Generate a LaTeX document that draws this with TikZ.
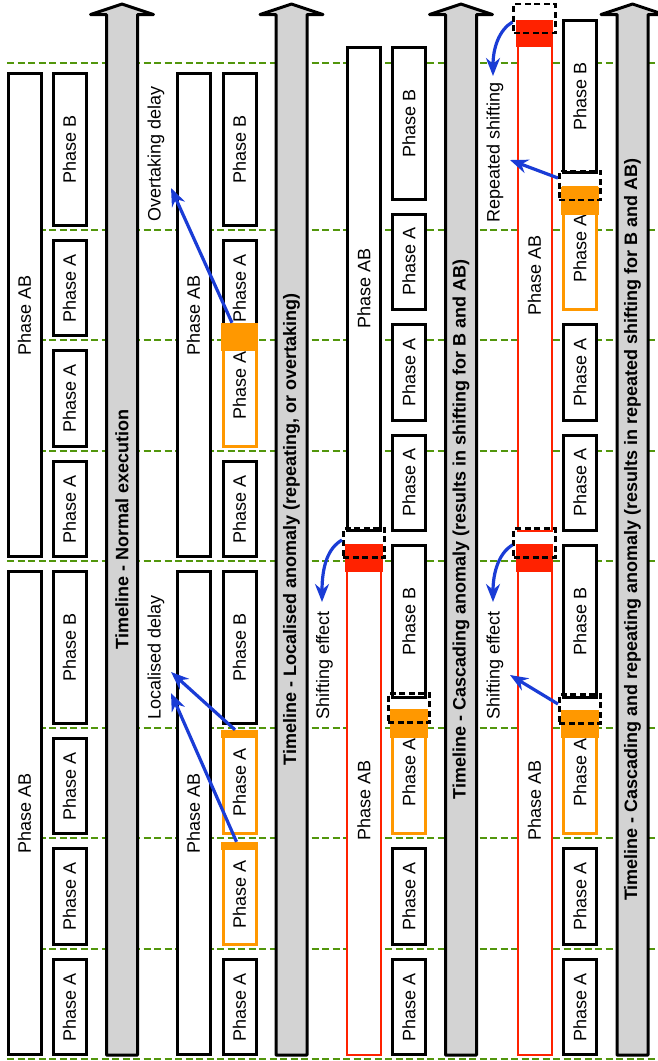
\documentclass[tikz,border=0pt]{standalone}
\usepackage{fontspec}
\setmainfont{Liberation Sans}
\usetikzlibrary{arrows.meta}

\definecolor{stepgreen}{RGB}{82,150,12}
\definecolor{lategold}{RGB}{255,152,0}
\definecolor{shiftred}{RGB}{255,34,0}
\definecolor{linkblue}{RGB}{26,60,214}
\definecolor{railgrey}{RGB}{211,211,211}

\begin{document}
\begin{tikzpicture}[
    x = 1pt, y = -1pt,
    font = \fontsize{18}{21}\selectfont]
  \tikzstyle{phasebox}=[draw, fill=white, line width=3pt, rotate=90, minimum height=33pt, inner sep=0pt]
  \tikzstyle{latebox}=[phasebox, draw=lategold, line width=3pt]
  \tikzstyle{redbox}=[phasebox, draw=shiftred, line width=2pt, minimum height=34pt]
  \tikzstyle{delaybar}=[fill=lategold, minimum width=37.5pt, inner sep=0pt]
  \tikzstyle{shiftbar}=[fill=shiftred, minimum width=37.5pt, inner sep=0pt]
  \tikzstyle{shiftmark}=[draw, line width=2.6pt, dash pattern=on 6pt off 3.5pt, minimum width=41.5pt, minimum height=29pt, inner sep=0pt]
  \tikzstyle{note}=[rotate=90, anchor=west, inner sep=0pt]
  \tikzstyle{rail}=[draw, fill=railgrey, line width=3pt, line join=round]
  \tikzstyle{effect}=[linkblue, line width=3.2pt, -{Stealth[length=18pt, width=14pt]}]
  \tikzstyle{tick}=[stepgreen, line width=2.5pt, dash pattern=on 7pt off 3.5pt]
  \useasboundingbox (0,0) rectangle (658,1061);

  % time steps
  \foreach \y in {63,230,340,451,561,728,838,949,1059}
    \draw[tick] (7,\y) -- (658,\y);

  % timelines
  \foreach \cx/\tl [count=\i] in {122/{Timeline - Normal execution},
      291.5/{Timeline - Localised anomaly (repeating, or overtaking)},
      461/{Timeline - Cascading anomaly (results in shifting for B and AB)},
      632.5/{Timeline - Cascading and repeating anomaly (results in repeated shifting for B and AB)}}
  {
    \draw[rail] (\cx-15.5,1055) -- (\cx-15.5,14.5) -- (\cx-31.5,14.5) -- (\cx,4)
      -- (\cx+31.5,14.5) -- (\cx+15.5,14.5) -- (\cx+15.5,1055) -- cycle;
    \node[rotate=90, font=\fontsize{18}{21}\selectfont\bfseries] (rail\i) at (\cx,529.5) {\tl};
  }

  % normal execution
  \node[phasebox, minimum width=483pt] (ab1a) at (24.5,315.25) {Phase AB};
  \node[phasebox, minimum width=483pt] (ab1b) at (24.5,813.25) {Phase AB};
  \foreach \t/\b/\p [count=\i] in {72.5/227/B, 239.5/337/A, 349.5/448/A, 460.5/558/A,
      570.5/725/B, 737.5/835/A, 847.5/946/A, 958.5/1056/A}
    \node[phasebox, minimum width={(\b-\t-2.5)*1pt}] (p1\i) at (69.5,{(\t+\b)/2}) {Phase \p};

  % localised anomaly
  \node[phasebox, minimum width=483pt] (ab2a) at (193.5,315.25) {Phase AB};
  \node[phasebox, minimum width=483pt] (ab2b) at (193.5,813.25) {Phase AB};
  \foreach \t/\b/\p [count=\i] in {72.5/227/B, 239.5/337/A, 460.5/558/A,
      570.5/725/B, 958.5/1056/A}
    \node[phasebox, minimum width={(\b-\t-2.5)*1pt}] (p2\i) at (239.5,{(\t+\b)/2}) {Phase \p};
  \node[latebox, minimum width=122.5pt] (late2a) at (239.5,385.5) {Phase A};
  \node[latebox, minimum width=102.5pt] (late2b) at (239.5,782.5) {Phase A};
  \node[latebox, minimum width=101.5pt] (late2c) at (239.5,894) {Phase A};
  \node[delaybar, minimum height=28pt] (bar2a) at (239.5,337) {};
  \node[delaybar, minimum height=8pt] (bar2b) at (239.5,734) {};
  \node[delaybar, minimum height=8pt] (bar2c) at (239.5,846) {};

  % cascading anomaly
  \node[phasebox, minimum width=483pt] (ab3a) at (364,288.75) {Phase AB};
  \node[redbox, minimum width=510pt] (ab3b) at (364,800) {Phase AB};
  \foreach \t/\b/\p [count=\i] in {46/200.5/B, 213/310.5/A, 323/421.5/A, 434/531.5/A,
      544/698.5/B, 847.5/946/A, 958.5/1056/A}
    \node[phasebox, minimum width={(\b-\t-2.5)*1pt}] (p3\i) at (409,{(\t+\b)/2}) {Phase \p};
  \node[latebox, minimum width=123.5pt] (late3a) at (409,772) {Phase A};
  \node[shiftbar, minimum height=28pt] (bar3a) at (364,558) {};
  \node[delaybar, minimum height=28.5pt] (bar3b) at (409,723.25) {};
  \node[shiftmark] (mark3a) at (364,543) {};
  \node[shiftmark] (mark3b) at (409,708) {};

  % cascading and repeating anomaly
  \node[redbox, minimum width=510pt] (ab4a) at (534.5,275.5) {Phase AB};
  \node[redbox, minimum width=510pt] (ab4b) at (534.5,800) {Phase AB};
  \foreach \t/\b/\p [count=\i] in {19.5/174/B, 323/421.5/A, 434/531.5/A,
      544/698.5/B, 847.5/946/A, 958.5/1056/A}
    \node[phasebox, minimum width={(\b-\t-2.5)*1pt}] (p4\i) at (580,{(\t+\b)/2}) {Phase \p};
  \node[latebox, minimum width=121.5pt] (late4a) at (580,248.5) {Phase A};
  \node[latebox, minimum width=122.5pt] (late4b) at (580,772.5) {Phase A};
  \node[shiftbar, minimum height=27.5pt] (bar4a) at (534.5,33.25) {};
  \node[shiftbar, minimum height=28pt] (bar4b) at (534.5,558) {};
  \node[delaybar, minimum height=28pt] (bar4c) at (580,200.5) {};
  \node[delaybar, minimum height=28pt] (bar4d) at (580,724) {};
  \node[shiftmark] (mark4a) at (534.5,18.5) {};
  \node[shiftmark] (mark4b) at (534.5,543) {};
  \node[shiftmark] (mark4c) at (580,185.5) {};
  \node[shiftmark] (mark4d) at (580,709) {};

  % effects
  \node[note] (od) at (156,222) {Overtaking delay};
  \node[note] (ld) at (156,720) {Localised delay};
  \node[note] (se3) at (324.5,720) {Shifting effect};
  \node[note] (rs) at (495,223) {Repeated shifting};
  \node[note] (se4) at (495,720) {Shifting effect};
  \coordinate (odtip) at (171,188);
  \coordinate (ldtipa) at (171,672);
  \coordinate (ldtipb) at (171,693);
  \coordinate (se3tip) at (322,602);
  \coordinate (rstipa) at (493,76);
  \coordinate (rstipb) at (510,160);
  \coordinate (se4tipa) at (493,602);
  \coordinate (se4tipb) at (510,675);
  \draw[effect] ([xshift=-7.5pt]bar2a.north) -- (odtip);
  \draw[effect] ([xshift=-4.5pt]bar2b.north) -- (ldtipa);
  \draw[effect] ([xshift=-3pt]bar2c.north) -- (ldtipb);
  \draw[effect] ([yshift=3pt]mark3a.west) .. controls (328,548) and (322,566) .. (se3tip);
  \draw[effect] ([yshift=-3.5pt]mark4a.west) .. controls (499,30) and (493,48) .. (rstipa);
  \draw[effect] ([yshift=7.5pt]mark4c.west) -- (rstipb);
  \draw[effect] ([yshift=-2pt]mark4b.west) .. controls (499,553) and (493,572) .. (se4tipa);
  \draw[effect] ([yshift=5pt]mark4d.west) -- (se4tipb);
\end{tikzpicture}
\end{document}
